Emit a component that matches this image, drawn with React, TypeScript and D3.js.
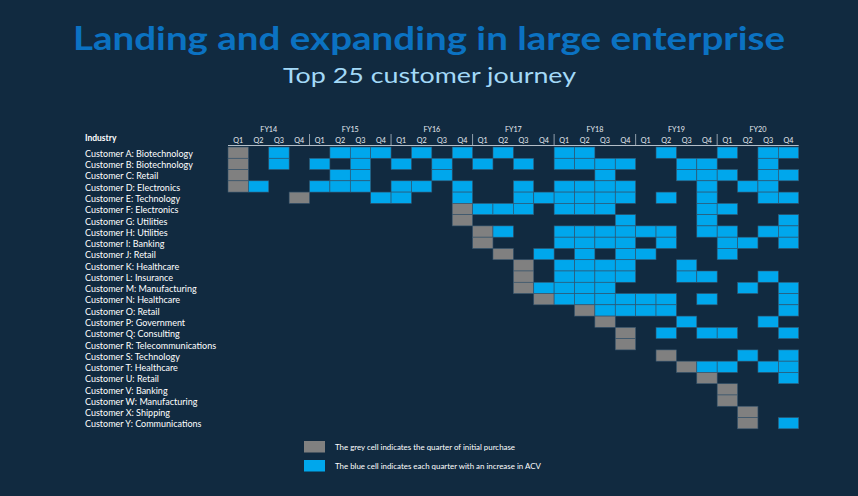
import React from "react";
import * as d3 from "d3";

const fiscalYears = ["FY14", "FY15", "FY16", "FY17", "FY18", "FY19", "FY20"];
const quarterNames = ["Q1", "Q2", "Q3", "Q4"];

const customers = [
  "Customer A", "Customer B", "Customer C", "Customer D", "Customer E",
  "Customer F", "Customer G", "Customer H", "Customer I", "Customer J",
  "Customer K", "Customer L", "Customer M", "Customer N", "Customer O",
  "Customer P", "Customer Q", "Customer R", "Customer S", "Customer T",
  "Customer U", "Customer V", "Customer W", "Customer X", "Customer Y",
];

const industries = [
  "Biotechnology", "Biotechnology", "Retail", "Electronics", "Technology",
  "Electronics", "Utilities", "Utilities", "Banking", "Retail",
  "Healthcare", "Insurance", "Manufacturing", "Healthcare", "Retail",
  "Government", "Consulting", "Telecommunications", "Technology", "Healthcare",
  "Retail", "Banking", "Manufacturing", "Shipping", "Communications",
];

// index of the quarter (0 = FY14 Q1) of initial purchase
const initialPurchase = [0, 0, 0, 0, 3, 11, 11, 12, 12, 13, 14, 14, 14, 15, 17, 18, 19, 19, 21, 22, 23, 24, 24, 25, 25];

// quarter indexes with an increase in ACV
const acvIncreases = [
  [2, 5, 6, 7, 9, 11, 13, 16, 17, 21, 24, 26, 27],
  [2, 4, 6, 8, 10, 12, 14, 16, 17, 18, 19, 22, 23, 26],
  [5, 6, 10, 18, 22, 23, 24, 26, 27],
  [1, 4, 5, 6, 8, 9, 11, 14, 16, 17, 18, 19, 23, 25, 26],
  [7, 8, 11, 14, 15, 16, 17, 18, 19, 21, 23, 26, 27],
  [12, 13, 14, 16, 17, 18, 23, 24],
  [19, 23, 27],
  [13, 16, 17, 18, 19, 20, 21, 23, 24, 26, 27],
  [16, 17, 18, 19, 21, 24, 25, 27],
  [15, 17, 19, 20, 24],
  [16, 17, 18, 19, 22],
  [16, 17, 18, 19, 22, 23, 26],
  [15, 16, 17, 18, 25, 27],
  [16, 17, 18, 19, 20, 21, 23, 27],
  [18, 19, 20, 21, 27],
  [22, 26],
  [21, 23, 24, 27],
  [],
  [25, 27],
  [23, 24, 26, 27],
  [27],
  [],
  [],
  [],
  [27],
];

const legendItems = [
  { kind: "grey", text: "The grey cell indicates the quarter of initial purchase" },
  { kind: "blue", text: "The blue cell indicates each quarter with an increase in ACV" },
];

const W = 858;
const H = 496;
const BG = "#112a40";
const BLUE = "#00a7ec";
const GREY = "#808080";
const CELL_STROKE = "#34536c";
const FONT = "Lato, 'Open Sans', sans-serif";

export default function App() {
  const quarters = fiscalYears.flatMap((fy) => quarterNames.map((q) => `${fy} ${q}`));
  const x = d3.scaleBand<string>().domain(quarters).range([228, 798.7]).padding(0);
  const y = d3.scaleBand<string>().domain(customers).range([147, 428.8]).padding(0);
  const bw = x.bandwidth();
  const bh = y.bandwidth();

  const cells: { key: string; q: string; c: string; fill: string }[] = [];
  customers.forEach((c, i) => {
    cells.push({ key: `g-${i}`, q: quarters[initialPurchase[i]], c, fill: GREY });
    acvIncreases[i].forEach((qi) => {
      cells.push({ key: `b-${i}-${qi}`, q: quarters[qi], c, fill: BLUE });
    });
  });

  return (
    <div style={{ position: "absolute", left: 0, top: 0, width: W, height: H, background: BG }}>
      <svg width={W} height={H} style={{ display: "block" }}>
        <rect x={0} y={0} width={W} height={H} fill={BG} />
        <text
          x={429}
          y={50}
          textAnchor="middle"
          fontFamily={FONT}
          fontWeight={700}
          fontSize={33}
          fill="#0b72c2"
          textLength={712}
          lengthAdjust="spacingAndGlyphs"
        >
          Landing and expanding in large enterprise
        </text>
        <text
          x={429.5}
          y={83}
          textAnchor="middle"
          fontFamily={FONT}
          fontSize={22}
          fill="#a3d9f7"
          textLength={293}
          lengthAdjust="spacingAndGlyphs"
        >
          Top 25 customer journey
        </text>

        {/* header */}
        {fiscalYears.map((fy) => (
          <text
            key={fy}
            x={(x(`${fy} Q1`) as number) + bw * 2}
            y={129.5}
            textAnchor="middle"
            dominantBaseline="central"
            fontFamily={FONT}
            fontSize={7.2}
            fill="#e6ebf0"
          >
            {fy}
          </text>
        ))}
        {quarters.map((q) => (
          <text
            key={q}
            x={(x(q) as number) + bw / 2}
            y={140.5}
            textAnchor="middle"
            dominantBaseline="central"
            fontFamily={FONT}
            fontSize={7.2}
            fill="#e6ebf0"
          >
            {q.split(" ")[1]}
          </text>
        ))}
        <line x1={228} x2={798.7} y1={145.5} y2={145.5} stroke="#b4bec8" strokeWidth={1} />
        {fiscalYears.slice(1).map((fy) => (
          <line
            key={`sep-${fy}`}
            x1={x(`${fy} Q1`) as number}
            x2={x(`${fy} Q1`) as number}
            y1={134}
            y2={146}
            stroke="#b4bec8"
            strokeWidth={0.8}
          />
        ))}

        <text
          x={85}
          y={137.5}
          dominantBaseline="central"
          fontFamily={FONT}
          fontWeight={700}
          fontSize={8.5}
          fill="#ffffff"
        >
          Industry
        </text>
        {customers.map((c, i) => (
          <text
            key={c}
            x={85}
            y={(y(c) as number) + bh / 2 + 0.8}
            dominantBaseline="central"
            fontFamily={FONT}
            fontSize={9}
            fill="#ffffff"
          >
            {`${c}: ${industries[i]}`}
          </text>
        ))}

        {/* cells */}
        {cells.map((d) => (
          <rect
            key={d.key}
            x={x(d.q) as number}
            y={y(d.c) as number}
            width={bw}
            height={bh}
            fill={d.fill}
            stroke={CELL_STROKE}
            strokeWidth={0.6}
          />
        ))}

        {/* legend */}
        {legendItems.map((item, i) => (
          <g key={item.kind} transform={`translate(304, ${441 + i * 19})`}>
            <rect width={21} height={11.5} fill={item.kind === "grey" ? GREY : BLUE} />
            <text
              x={31}
              y={6.2}
              dominantBaseline="central"
              fontFamily={FONT}
              fontSize={7.9}
              fill="#ffffff"
            >
              {item.text}
            </text>
          </g>
        ))}
      </svg>
    </div>
  );
}
